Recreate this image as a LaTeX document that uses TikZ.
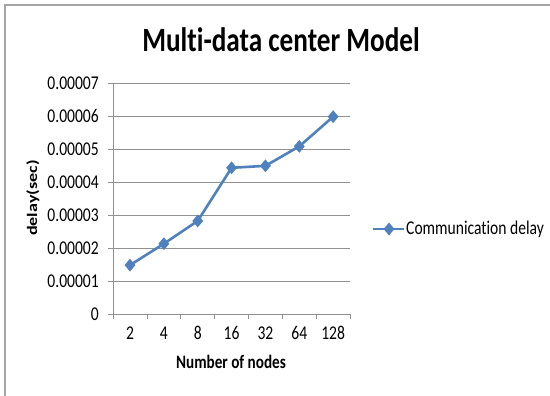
\documentclass[tikz,border=0pt]{standalone}
\usepackage{fontspec}
\setmainfont{Carlito}
\newfontfamily\chartfont[FakeStretch=0.8,Ligatures=CommonOff]{Carlito}
\newfontfamily\sidefont[FakeStretch=1.25,Ligatures=CommonOff]{Carlito}
\usepackage{tikz}
\usetikzlibrary{shapes.geometric}
\definecolor{seriesBlue}{RGB}{79,129,189}
\definecolor{gridGray}{RGB}{145,145,145}
\definecolor{frameGray}{RGB}{165,165,165}

\begin{document}
\begin{tikzpicture}[x=1pt,y=-1pt,
    frame/.style={draw=frameGray,line width=1.5pt},
    gridline/.style={draw=gridGray,line width=0.7pt},
    axisline/.style={draw=gridGray,line width=0.7pt},
    ticklabel/.style={font=\chartfont\fontsize{19.5}{21}\selectfont,inner sep=0pt},
    axistitle/.style={font=\chartfont\bfseries\fontsize{19}{21}\selectfont,inner sep=0pt},
    series/.style={draw=seriesBlue,line width=2.6pt,line join=round},
    marker/.style={diamond,fill=seriesBlue,inner sep=0pt,
                   minimum width=11pt,minimum height=13pt},
  ]
    \useasboundingbox (0,0) rectangle (550,396);
    \draw[frame] (5,396) -- (5,5) -- (550,5);

    \node[font=\chartfont\bfseries\fontsize{34}{36}\selectfont] (title) at (281,40)
      {Multi-data center Model};

    % value grid and y ticks
    \foreach \v in {1,...,7}
      \draw[gridline] (113,{314-33*\v}) -- (350,{314-33*\v});
    \foreach \v in {0,...,7}
      \draw[axisline] (108,{314-33*\v}) -- (113,{314-33*\v});
    \draw[axisline] (113,83) -- (113,314) -- (350,314);
    \foreach \k in {0,...,7}
      \draw[axisline] ({113+33.86*\k},314) -- ({113+33.86*\k},319);

    \foreach \v/\lab in {0/0,1/0.00001,2/0.00002,3/0.00003,4/0.00004,
                         5/0.00005,6/0.00006,7/0.00007}
      \node[ticklabel,anchor=east] (y\v) at (99,{314-33*\v}) {\lab};
    \foreach \n [count=\i from 0] in {2,4,8,16,32,64,128}
      \node[ticklabel] (x\i) at ({130+33.86*\i},333) {\n};

    \node[axistitle] (xtitle) at (231,362) {Number of nodes};
    \node[font=\sidefont\bfseries\fontsize{14.5}{16}\selectfont,inner sep=0pt,
          rotate=90] (ytitle) at (33,198) {delay(sec)};

    % data series
    \foreach \v [count=\i from 0] in {1.48,2.13,2.82,4.43,4.49,5.08,5.98}
      \coordinate (p\i) at ({130+33.86*\i},{314-33*\v});
    \draw[series] (p0) -- (p1) -- (p2) -- (p3) -- (p4) -- (p5) -- (p6);
    \foreach \i in {0,...,6}
      \node[marker] (m\i) at (p\i) {};

    % legend
    \coordinate (legA) at (373,229);
    \coordinate (legB) at (404,229);
    \draw[series] (legA) -- (legB);
    \node[marker] (legM) at (389,229) {};
    \node[ticklabel,font=\chartfont\fontsize{19.5}{21}\selectfont,anchor=west]
      (leg) at (406,229) {Communication delay};

  \end{tikzpicture}
\end{document}
